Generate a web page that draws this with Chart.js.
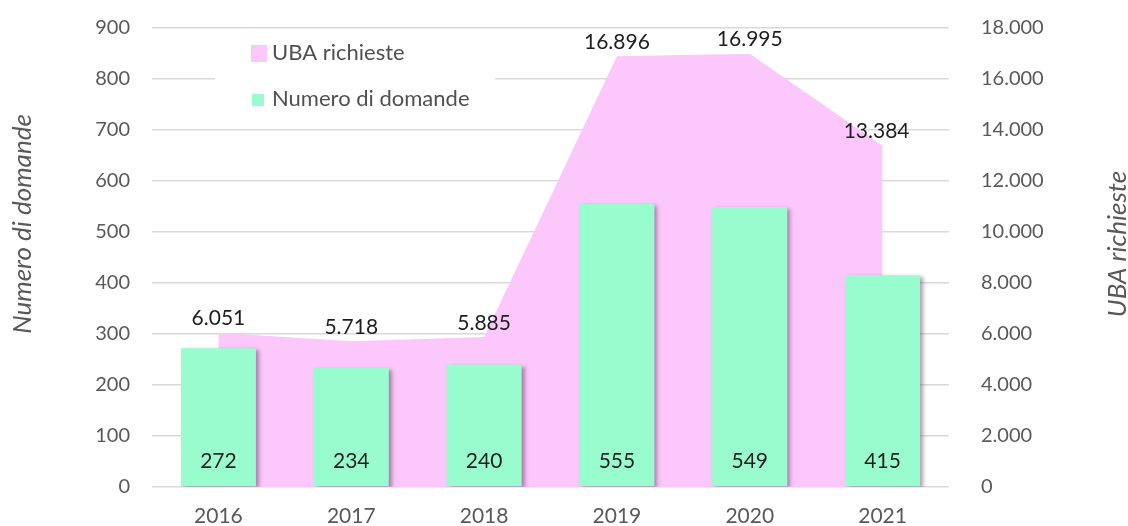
<!DOCTYPE html>
<html><head><meta charset="utf-8">
<script src="https://cdn.jsdelivr.net/npm/chart.js@4/dist/chart.umd.min.js"></script>
<style>html,body{margin:0;padding:0;background:#fff}#wrap{width:1128px;height:526px}</style>
</head><body><div id="wrap"><canvas id="c" width="1128" height="526"></canvas></div>
<script>
const years = ['2016','2017','2018','2019','2020','2021'];
const domande = [272, 234, 240, 555, 549, 415];
const uba = [6051, 5718, 5885, 16896, 16995, 13384];
const leftTicks = [0,100,200,300,400,500,600,700,800,900];
const rightTicks = [0,2000,4000,6000,8000,10000,12000,14000,16000,18000];

const FONT = 'Lato, "Open Sans", sans-serif';
const GREY = '#595959';
const PINK = '#fcc8fb';
const GREEN = '#99fccf';
const fmt = v => String(v).replace(/\B(?=(\d{3})+(?!\d))/g, '.');

const shadowPlugin = {
  id: 'shadow',
  beforeDatasetDraw(chart) {
    const ctx = chart.ctx;
    ctx.save();
    ctx.shadowColor = 'rgba(70,40,70,0.45)';
    ctx.shadowBlur = 4;
    ctx.shadowOffsetX = 3;
    ctx.shadowOffsetY = 2;
  },
  afterDatasetDraw(chart) { chart.ctx.restore(); }
};

const decoPlugin = {
  id: 'deco',
  beforeDatasetsDraw(chart) {
    const ctx = chart.ctx;
    ctx.save();
    ctx.fillStyle = '#fff';
    ctx.fillRect(215, 36, 280, 80);
    ctx.fillStyle = PINK;
    ctx.fillRect(251, 45, 16, 17);
    ctx.fillStyle = GREEN;
    ctx.fillRect(252, 94, 12, 12);
    ctx.fillStyle = '#505050';
    ctx.font = '22px ' + FONT;
    ctx.textBaseline = 'middle';
    ctx.textAlign = 'left';
    ctx.fillText('UBA richieste', 272, 53);
    ctx.fillText('Numero di domande', 272, 99);
    ctx.restore();
  },
  afterDraw(chart) {
    const ctx = chart.ctx;
    const title = (txt, x, y) => {
      ctx.save();
      ctx.fillStyle = GREY;
      ctx.font = 'italic 26px ' + FONT;
      ctx.textAlign = 'center';
      ctx.textBaseline = 'middle';
      ctx.translate(x, y);
      ctx.rotate(-Math.PI/2);
      ctx.fillText(txt, 0, 0);
      ctx.restore();
    };
    title('Numero di domande', 23, 224);
    title('UBA richieste', 1118, 244);
    const bars = chart.getDatasetMeta(0).data;
    const pts = chart.getDatasetMeta(1).data;
    const ys = chart.scales.y;
    ctx.save();
    ctx.font = '21px ' + FONT;
    ctx.textAlign = 'center';
    ctx.textBaseline = 'middle';
    ctx.fillStyle = '#1e1e1e';
    bars.forEach((b, i) => ctx.fillText(String(domande[i]), b.x, ys.getPixelForValue(50)));
    pts.forEach((p, i) => ctx.fillText(fmt(uba[i]), p.x - (i === 5 ? 6 : 0), p.y - 14));
    ctx.restore();
  }
};

new Chart(document.getElementById('c'), {
  data: {
    labels: years,
    datasets: [
      { type: 'bar', label: 'Numero di domande', data: domande, backgroundColor: GREEN,
        yAxisID: 'y', order: 0, barPercentage: 0.565, categoryPercentage: 1 },
      { type: 'line', label: 'UBA richieste', data: uba, backgroundColor: PINK, borderWidth: 0,
        borderColor: PINK, fill: 'origin', pointRadius: 0, tension: 0, yAxisID: 'y2', order: 1 }
    ]
  },
  options: {
    responsive: false, animation: false,
    layout: { padding: { top: 28, left: 0, right: 0, bottom: 0 } },
    plugins: { legend: { display: false }, tooltip: { enabled: false } },
    scales: {
      x: {
        grid: { display: false }, border: { display: false },
        ticks: { color: GREY, font: { family: FONT, size: 21 }, padding: 9 },
        afterFit(s) { s.height = 39; s.paddingLeft = 0; s.paddingRight = 0; }
      },
      y: {
        position: 'left', min: 0, max: 900,
        afterBuildTicks(s) { s.ticks = leftTicks.map(v => ({ value: v })); },
        grid: { color: '#d9d9d9', lineWidth: 1.5, drawTicks: false },
        border: { display: false },
        ticks: { color: GREY, font: { family: FONT, size: 20 }, padding: 22 },
        afterFit(s) { s.width = 152; s.paddingTop = 0; s.paddingBottom = 0; }
      },
      y2: {
        position: 'right', min: 0, max: 18000,
        afterBuildTicks(s) { s.ticks = rightTicks.map(v => ({ value: v })); },
        grid: { display: false }, border: { display: false },
        ticks: { color: GREY, font: { family: FONT, size: 20 }, padding: 24, callback: v => fmt(v) },
        afterFit(s) { s.width = 179; s.paddingTop = 0; s.paddingBottom = 0; }
      }
    }
  },
  plugins: [shadowPlugin, decoPlugin]
});
</script></body></html>
